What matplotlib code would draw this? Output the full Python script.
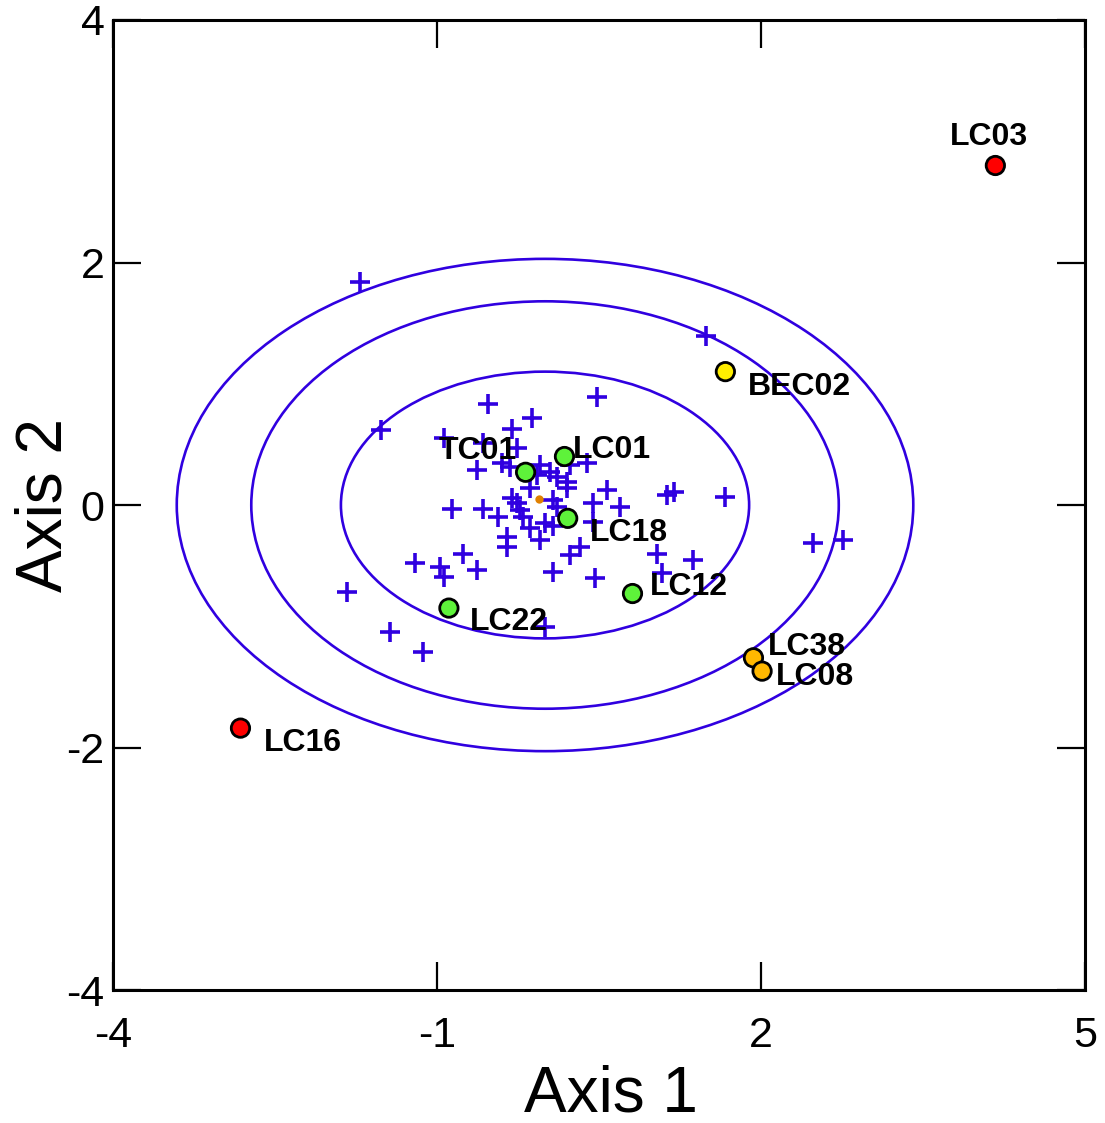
import matplotlib
matplotlib.use("Agg")
import matplotlib.pyplot as plt
from matplotlib.patches import Ellipse

plt.rcParams["font.family"] = ["Liberation Sans", "DejaVu Sans"]

# ordination scores of the unlabelled samples
cross_x = [-1.71, 1.49, -1.52, 0.48, -0.53, -0.12, -0.94, -0.31, -0.26, -0.57,
           -0.40, -0.63, -0.32, -0.05, 0.05, 0.23, 0.39, -0.07, 0.11, 0.20,
           0.20, -0.14, -0.31, -0.26, 0.07, -0.86, -0.57, -0.44, -0.23, -0.20,
           0.11, 0.00, 0.07, -0.14, -0.05, -0.35, -0.35, -0.76, 0.23, 0.32,
           0.57, 0.69, 0.44, -1.20, -0.97, -0.94, -0.63, 0.07, -1.83, -1.44,
           -1.13, 0.00, 1.13, 1.19, 1.67, 0.44, 1.04, 1.37, 0.46, 1.08,
           2.48, 2.76]
cross_y = [1.84, 1.39, 0.62, 0.89, 0.83, 0.72, 0.55, 0.63, 0.47, 0.51,
           0.35, 0.29, 0.31, 0.33, 0.27, 0.33, 0.35, 0.25, 0.23, 0.19,
           0.14, 0.14, 0.06, 0.02, 0.04, -0.03, -0.03, -0.10, -0.04, -0.10,
           -0.02, -0.15, -0.17, -0.19, -0.29, -0.26, -0.35, -0.40, -0.41, -0.35,
           0.12, -0.02, 0.02, -0.48, -0.51, -0.59, -0.54, -0.55, -0.72, -1.05,
           -1.21, -1.01, 0.08, 0.11, 0.07, -0.14, -0.40, -0.45, -0.60, -0.56,
           -0.31, -0.29]

# highlighted samples
names = ["LC03", "BEC02", "LC01", "TC01", "LC18", "LC12", "LC22", "LC38", "LC08", "LC16"]
pts_x = [4.17, 1.67, 0.18, -0.18, 0.21, 0.81, -0.89, 1.93, 2.01, -2.82]
pts_y = [2.80, 1.10, 0.40, 0.27, -0.11, -0.73, -0.85, -1.26, -1.37, -1.84]
pts_col = ["#ff0000", "#ffee00", "#5ef23a", "#5ef23a", "#5ef23a", "#5ef23a",
           "#5ef23a", "#ffb800", "#ffb800", "#ff0000"]

centroid = (-0.06, 0.05)

# confidence ellipses (semi-axes)
ell_a = [1.89, 2.72, 3.41]
ell_b = [1.10, 1.68, 2.03]

# label placement, offset in pixels and alignment
lab_off = [(-6, 28), (22, -15), (8, 7), (-9, 21), (22, -15), (17, 7),
           (21, -14), (14, 11), (14, -6), (23, -15)]
lab_ha = ["center", "left", "left", "right", "left", "left", "left", "left", "left", "left"]

blue = "#3000e0"

fig = plt.figure(figsize=(11.05, 11.23), dpi=100)
ax = fig.add_axes([0.1023, 0.1184, 0.8796, 0.8638])

for a, b in zip(ell_a, ell_b):
    ax.add_patch(Ellipse((0, 0), 2 * a, 2 * b, fill=False, ec=blue, lw=1.9, zorder=2))

ax.plot(cross_x, cross_y, "+", color=blue, ms=15, mew=2.6, zorder=3)
ax.plot(*centroid, "o", color="#e08000", ms=6, mec="none", zorder=4)

ax.scatter(pts_x, pts_y, s=175, c=pts_col, edgecolors="black", linewidths=2, zorder=5)
for n, x, y, off, ha in zip(names, pts_x, pts_y, lab_off, lab_ha):
    ax.annotate(n, (x, y), xytext=off, textcoords="offset pixels", ha=ha, va="center",
                fontsize=23, fontweight="bold", zorder=6)

ax.set_xlim(-4, 5)
ax.set_ylim(-4, 4)
ax.set_xticks([-4, -1, 2, 5])
ax.set_yticks([-4, -2, 0, 2, 4])
ax.set_xticklabels(["-4", "-1", "2", "5"])
ax.set_yticklabels(["-4", "-2", "0", "2", "4"])
ax.tick_params(direction="in", length=20, width=1.6, labelsize=31,
               top=True, right=True)
ax.tick_params(axis="x", pad=19)
ax.tick_params(axis="y", pad=6)
for s in ax.spines.values():
    s.set_linewidth(2.2)

ax.set_xlabel("Axis 1", fontsize=46, labelpad=6)
ax.set_ylabel("Axis 2", fontsize=46, labelpad=-6)
ax.xaxis.label.set_x(0.512)

fig.savefig("out.png", dpi=100)
